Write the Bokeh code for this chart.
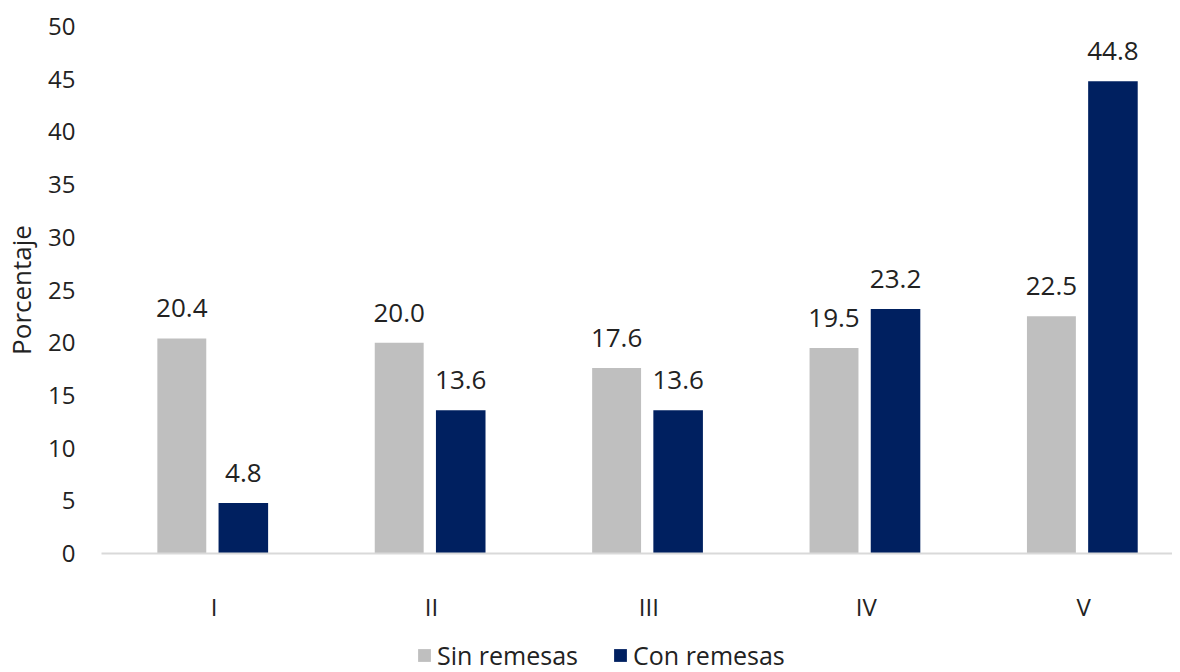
from bokeh.plotting import figure
from bokeh.layouts import column
from bokeh.models import ColumnDataSource, FixedTicker, Legend, LegendItem, LabelSet, Range1d
from bokeh.transform import dodge
from bokeh.core.properties import value
from bokeh.embed import file_html
from bokeh.resources import INLINE

categories = ["I", "II", "III", "IV", "V"]
sin_remesas = [20.4, 20.0, 17.6, 19.5, 22.5]
con_remesas = [4.8, 13.6, 13.6, 23.2, 44.8]
y_ticks = [0, 5, 10, 15, 20, 25, 30, 35, 40, 45, 50]
series_names = ["Sin remesas", "Con remesas"]
series_colors = ["#bfbfbf", "#002060"]

FONT = "Open Sans"
TXT = "#222222"

xs = list(range(1, len(categories) + 1))
src = ColumnDataSource(dict(
    x=xs, cat=categories, sin=sin_remesas, con=con_remesas,
    sin_lbl=[f"{v:.1f}" for v in sin_remesas],
    con_lbl=[f"{v:.1f}" for v in con_remesas],
))

p = figure(width=1172, height=625, output_backend="svg", toolbar_location=None,
           x_range=Range1d(0.4826, 5.409), y_range=Range1d(0, 50),
           min_border_left=96, min_border_right=0, min_border_top=26, min_border_bottom=72)
p.outline_line_color = None
p.grid.grid_line_color = None

p.vbar(x=dodge("x", -0.148, range=p.x_range), top="sin", width=0.225, source=src,
       fill_color=series_colors[0], line_color=None)
p.vbar(x=dodge("x", 0.135, range=p.x_range), top="con", width=0.228, source=src,
       fill_color=series_colors[1], line_color=None)

for col, ycol, off in (("sin_lbl", "sin", -0.148), ("con_lbl", "con", 0.135)):
    lbl = LabelSet(x=dodge("x", off, range=p.x_range), y=ycol, text=col, source=src,
                   y_offset=21, text_align="center", text_baseline="alphabetic",
                   text_font=value(FONT), text_font_size=value("26px"), text_color=TXT)
    p.add_layout(lbl)

# x axis
p.xaxis.ticker = FixedTicker(ticks=xs)
p.xaxis.major_label_overrides = {i: c for i, c in zip(xs, categories)}
p.xaxis.axis_line_color = "#d9d9d9"
p.xaxis.axis_line_width = 2
p.xaxis.major_tick_line_color = None
p.xaxis.minor_tick_line_color = None
p.xaxis.major_label_standoff = 30
p.xaxis.major_label_text_font = FONT
p.xaxis.major_label_text_font_size = "24px"
p.xaxis.major_label_text_color = TXT

# y axis
p.yaxis.ticker = FixedTicker(ticks=y_ticks)
p.yaxis.axis_line_color = None
p.yaxis.major_tick_line_color = None
p.yaxis.minor_tick_line_color = None
p.yaxis.major_label_standoff = 20
p.yaxis.major_label_text_font = FONT
p.yaxis.major_label_text_font_size = "24px"
p.yaxis.major_label_text_color = TXT
p.yaxis.axis_label = "Porcentaje"
p.yaxis.axis_label_text_font = FONT
p.yaxis.axis_label_text_font_size = "26px"
p.yaxis.axis_label_text_font_style = "normal"
p.yaxis.axis_label_text_color = TXT
p.yaxis.axis_label_standoff = 6

# legend strip
pl = figure(width=1172, height=47, output_backend="svg", toolbar_location=None,
            x_range=Range1d(0, 1), y_range=Range1d(0, 1),
            x_axis_location=None, y_axis_location=None,
            min_border_left=0, min_border_right=0, min_border_top=0, min_border_bottom=0)
pl.outline_line_color = None
pl.grid.grid_line_color = None
items = []
for name, colr, col in zip(series_names, series_colors, ["sin", "con"]):
    rr = pl.vbar(x="x", top=col, width=0.1, source=src, fill_color=colr,
                 line_color=None, visible=False)
    items.append(LegendItem(label=name, renderers=[rr]))
legend = Legend(items=items, orientation="horizontal", location=(315, 0),
                glyph_width=16, glyph_height=16, label_standoff=5, spacing=34,
                padding=0, margin=0, label_height=20,
                label_text_font=FONT, label_text_font_size="25px", label_text_color=TXT,
                border_line_color=None, background_fill_alpha=0)
pl.add_layout(legend, "center")

layout = column(p, pl, spacing=0)
open("out.html", "w").write(file_html(layout, INLINE))
